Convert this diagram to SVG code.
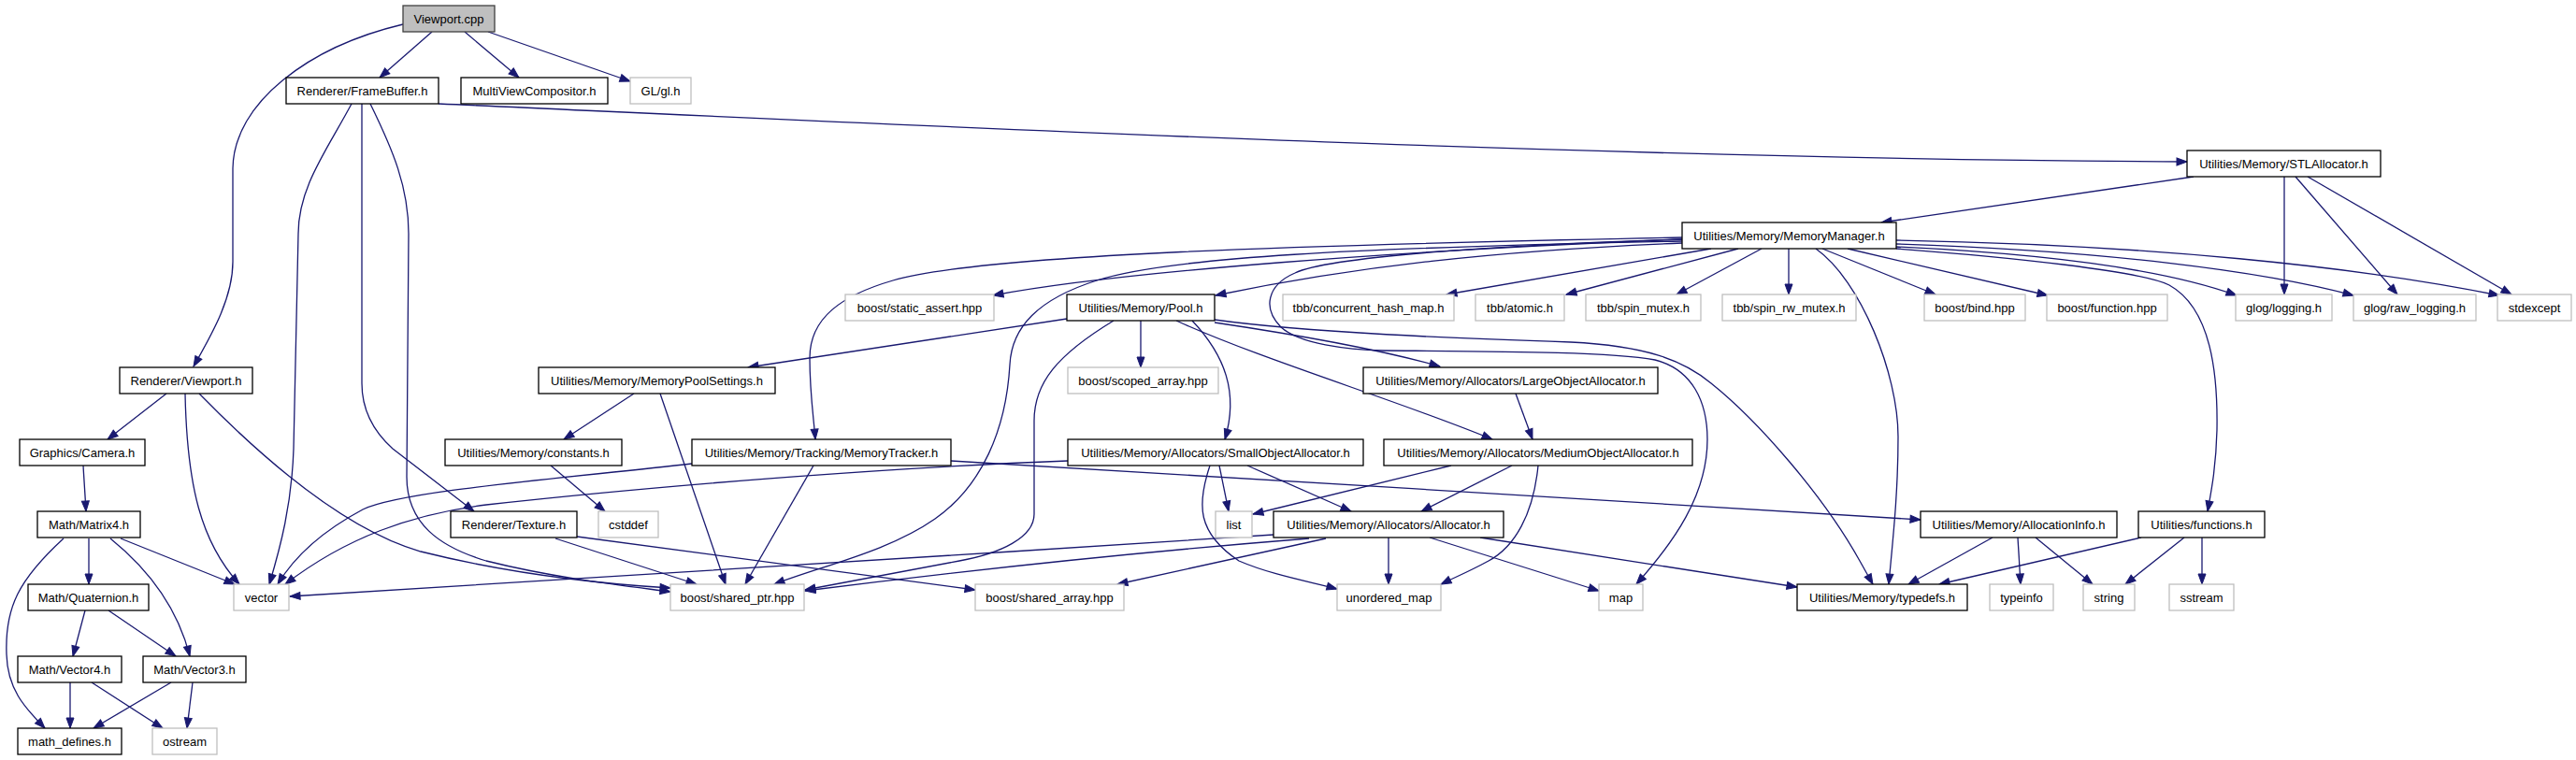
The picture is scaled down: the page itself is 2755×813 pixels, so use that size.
<svg xmlns="http://www.w3.org/2000/svg" width="2755" height="813" viewBox="0 0 2755 813">
<defs>
<style>
rect{fill:#fff;stroke:#000;stroke-width:1.3}
.x rect{stroke:#bfbfbf}
.r rect{fill:#bfbfbf;stroke:#404040}
text{font-family:"Liberation Sans",Arial,Helvetica,sans-serif;font-size:13px;text-anchor:middle;fill:#000}
#edges path{fill:none;stroke:#191970;stroke-width:1.3;marker-end:url(#a)}
</style>
<marker id="a" markerWidth="12" markerHeight="9" refX="11" refY="4" orient="auto" markerUnits="userSpaceOnUse" overflow="visible"><path d="M0,0 L11,4 L0,8 z" fill="#191970" stroke="#191970" stroke-width="1"/></marker>
</defs>
<rect x="0" y="0" width="2755" height="813" style="fill:#fff;stroke:none"/>
<g id="edges">
<path d="M431,26 C330,50 250,110 249,180 L249,280 C249,320 225,360 207,392"/>
<path d="M462,34 L406,83"/>
<path d="M497,34 L555,83"/>
<path d="M522,34 L674,87"/>
<path d="M469,111 C1000,135 1700,170 2339,173"/>
<path d="M376,111 C350,160 319,200 319,250 L314,480 C312,540 300,585 288,625"/>
<path d="M387,111 L387,410 C387,440 400,462 420,480 L507,547"/>
<path d="M396,111 C420,160 437,200 437,250 L435,510 C435,560 470,585 520,600 C600,620 680,628 717,633"/>
<path d="M178,421 L115,470"/>
<path d="M198,421 C200,520 215,580 256,625"/>
<path d="M213,421 C300,510 380,570 450,590 C550,615 650,625 717,629"/>
<path d="M89,498 L92,547"/>
<path d="M68,576 C20,620 5,650 7,700 C8,740 30,760 48,779"/>
<path d="M95,576 L95,625"/>
<path d="M118,576 C160,610 190,650 203,702"/>
<path d="M129,576 L251,625"/>
<path d="M91,653 L78,702"/>
<path d="M116,653 L188,702"/>
<path d="M75,730 L75,779"/>
<path d="M98,730 L174,779"/>
<path d="M183,730 L100,779"/>
<path d="M206,730 L200,779"/>
<path d="M2346,189 L2012,238"/>
<path d="M2443,189 L2443,315"/>
<path d="M2455,189 L2564,315"/>
<path d="M2468,189 L2686,315"/>
<path d="M1799,256 C1500,268 1200,290 1062,316"/>
<path d="M1799,260 C1600,268 1450,285 1300,316"/>
<path d="M1799,254 C1400,262 1050,272 955,300 C900,316 866,340 866,383 C866,420 870,445 872,470"/>
<path d="M1799,258 C1450,265 1250,275 1173,300 C1110,320 1082,350 1080,390 C1076,460 1050,520 1000,555 C950,590 880,605 828,625"/>
<path d="M1799,256 C1600,262 1420,275 1385,292 C1355,305 1350,330 1370,350 C1390,368 1440,374 1480,375 C1600,376 1720,376 1770,385 C1810,395 1826,430 1826,470 C1826,530 1790,580 1750,625"/>
<path d="M1830,266 L1547,315"/>
<path d="M1859,266 L1675,315"/>
<path d="M1884,266 L1793,315"/>
<path d="M1913,266 L1913,315"/>
<path d="M1949,266 L2070,315"/>
<path d="M1942,266 C1990,300 2030,400 2030,467 C2030,530 2024,580 2020,625"/>
<path d="M1976,266 L2190,316"/>
<path d="M2028,264 C2200,272 2320,290 2392,316"/>
<path d="M2028,261 C2250,268 2420,290 2517,316"/>
<path d="M2028,257 C2300,262 2520,285 2673,316"/>
<path d="M2028,266 C2150,275 2290,290 2320,305 C2365,330 2372,400 2371,460 C2370,500 2365,525 2361,547"/>
<path d="M1141,341 L800,393"/>
<path d="M1220,343 L1220,393"/>
<path d="M1275,343 C1310,380 1325,420 1310,470"/>
<path d="M1191,343 C1130,380 1106,410 1106,450 L1106,550 C1106,575 1070,592 1026,600 L861,631"/>
<path d="M1299,345 C1400,360 1480,375 1540,392"/>
<path d="M1258,343 C1350,385 1500,430 1596,470"/>
<path d="M1299,342 C1400,356 1560,362 1680,366 C1760,370 1800,385 1830,410 C1880,450 1950,530 1989,600 L2003,625"/>
<path d="M678,421 L603,470"/>
<path d="M706,421 L776,625"/>
<path d="M589,498 L647,547"/>
<path d="M740,496 C600,512 430,525 388,545 C345,568 315,595 297,625"/>
<path d="M870,498 L797,625"/>
<path d="M1017,493 C1300,510 1800,540 2054,556"/>
<path d="M1142,493 C950,500 700,520 520,540 C440,550 370,575 305,625"/>
<path d="M1304,498 L1314,547"/>
<path d="M1294,498 C1280,540 1280,570 1325,600 C1360,615 1400,622 1430,630"/>
<path d="M1334,498 L1445,547"/>
<path d="M1621,421 L1639,470"/>
<path d="M1552,498 L1340,550"/>
<path d="M1617,498 L1520,547"/>
<path d="M1645,498 C1640,550 1620,585 1592,600 C1570,612 1555,618 1541,625"/>
<path d="M1362,572 C1000,595 600,622 310,638"/>
<path d="M1400,576 C1250,588 1050,608 861,632"/>
<path d="M1418,576 L1195,625"/>
<path d="M1485,575 L1485,625"/>
<path d="M1529,575 L1710,632"/>
<path d="M1583,575 L1922,628"/>
<path d="M2131,575 L2041,625"/>
<path d="M2158,575 L2161,625"/>
<path d="M2177,575 L2238,625"/>
<path d="M2290,575 L2074,625"/>
<path d="M2336,575 L2273,625"/>
<path d="M2355,575 L2355,625"/>
<path d="M594,576 L745,625"/>
<path d="M617,574 L1043,631"/>
</g>
<g id="n_viewport_cpp" class="r"><rect x="431" y="6" width="98" height="28"/><text x="480" y="24.5">Viewport.cpp</text></g>
<g id="n_framebuffer"><rect x="306" y="83" width="163" height="28"/><text x="387.5" y="101.5">Renderer/FrameBuffer.h</text></g>
<g id="n_multiview"><rect x="493" y="83" width="157" height="28"/><text x="571.5" y="101.5">MultiViewCompositor.h</text></g>
<g id="n_gl" class="x"><rect x="674" y="83" width="65" height="28"/><text x="706.5" y="101.5">GL/gl.h</text></g>
<g id="n_stlallocator"><rect x="2339" y="161" width="207" height="28"/><text x="2442.5" y="179.5">Utilities/Memory/STLAllocator.h</text></g>
<g id="n_memorymanager"><rect x="1799" y="238" width="229" height="28"/><text x="1913.5" y="256.5">Utilities/Memory/MemoryManager.h</text></g>
<g id="n_static_assert" class="x"><rect x="904" y="315" width="159" height="28"/><text x="983.5" y="333.5">boost/static_assert.hpp</text></g>
<g id="n_pool"><rect x="1141" y="315" width="158" height="28"/><text x="1220" y="333.5">Utilities/Memory/Pool.h</text></g>
<g id="n_concurrent" class="x"><rect x="1372" y="315" width="183" height="28"/><text x="1463.5" y="333.5">tbb/concurrent_hash_map.h</text></g>
<g id="n_atomic" class="x"><rect x="1578" y="315" width="95" height="28"/><text x="1625.5" y="333.5">tbb/atomic.h</text></g>
<g id="n_spin_mutex" class="x"><rect x="1696" y="315" width="123" height="28"/><text x="1757.5" y="333.5">tbb/spin_mutex.h</text></g>
<g id="n_spin_rw_mutex" class="x"><rect x="1842" y="315" width="143" height="28"/><text x="1913.5" y="333.5">tbb/spin_rw_mutex.h</text></g>
<g id="n_bind" class="x"><rect x="2058" y="315" width="108" height="28"/><text x="2112" y="333.5">boost/bind.hpp</text></g>
<g id="n_function" class="x"><rect x="2189" y="315" width="129" height="28"/><text x="2253.5" y="333.5">boost/function.hpp</text></g>
<g id="n_logging" class="x"><rect x="2391" y="315" width="103" height="28"/><text x="2442.5" y="333.5">glog/logging.h</text></g>
<g id="n_raw_logging" class="x"><rect x="2517" y="315" width="131" height="28"/><text x="2582.5" y="333.5">glog/raw_logging.h</text></g>
<g id="n_stdexcept" class="x"><rect x="2671" y="315" width="79" height="28"/><text x="2710.5" y="333.5">stdexcept</text></g>
<g id="n_renderer_viewport"><rect x="128" y="393" width="142" height="28"/><text x="199" y="411.5">Renderer/Viewport.h</text></g>
<g id="n_poolsettings"><rect x="576" y="393" width="253" height="28"/><text x="702.5" y="411.5">Utilities/Memory/MemoryPoolSettings.h</text></g>
<g id="n_scoped_array" class="x"><rect x="1142" y="393" width="161" height="28"/><text x="1222.5" y="411.5">boost/scoped_array.hpp</text></g>
<g id="n_largeobj"><rect x="1458" y="393" width="315" height="28"/><text x="1615.5" y="411.5">Utilities/Memory/Allocators/LargeObjectAllocator.h</text></g>
<g id="n_camera"><rect x="21" y="470" width="134" height="28"/><text x="88" y="488.5">Graphics/Camera.h</text></g>
<g id="n_constants"><rect x="476" y="470" width="189" height="28"/><text x="570.5" y="488.5">Utilities/Memory/constants.h</text></g>
<g id="n_memorytracker"><rect x="740" y="470" width="277" height="28"/><text x="878.5" y="488.5">Utilities/Memory/Tracking/MemoryTracker.h</text></g>
<g id="n_smallobj"><rect x="1142" y="470" width="316" height="28"/><text x="1300" y="488.5">Utilities/Memory/Allocators/SmallObjectAllocator.h</text></g>
<g id="n_mediumobj"><rect x="1480" y="470" width="330" height="28"/><text x="1645" y="488.5">Utilities/Memory/Allocators/MediumObjectAllocator.h</text></g>
<g id="n_matrix4"><rect x="40" y="547" width="110" height="28"/><text x="95" y="565.5">Math/Matrix4.h</text></g>
<g id="n_texture"><rect x="482" y="547" width="135" height="28"/><text x="549.5" y="565.5">Renderer/Texture.h</text></g>
<g id="n_cstddef" class="x"><rect x="640" y="547" width="64" height="28"/><text x="672" y="565.5">cstddef</text></g>
<g id="n_list" class="x"><rect x="1300" y="547" width="39" height="28"/><text x="1319.5" y="565.5">list</text></g>
<g id="n_allocator"><rect x="1362" y="547" width="246" height="28"/><text x="1485" y="565.5">Utilities/Memory/Allocators/Allocator.h</text></g>
<g id="n_allocationinfo"><rect x="2054" y="547" width="210" height="28"/><text x="2159" y="565.5">Utilities/Memory/AllocationInfo.h</text></g>
<g id="n_functions"><rect x="2287" y="547" width="135" height="28"/><text x="2354.5" y="565.5">Utilities/functions.h</text></g>
<g id="n_quaternion"><rect x="30" y="625" width="129" height="28"/><text x="94.5" y="643.5">Math/Quaternion.h</text></g>
<g id="n_vector" class="x"><rect x="250" y="625" width="59" height="28"/><text x="279.5" y="643.5">vector</text></g>
<g id="n_shared_ptr" class="x"><rect x="717" y="625" width="143" height="28"/><text x="788.5" y="643.5">boost/shared_ptr.hpp</text></g>
<g id="n_shared_array" class="x"><rect x="1043" y="625" width="159" height="28"/><text x="1122.5" y="643.5">boost/shared_array.hpp</text></g>
<g id="n_unordered_map" class="x"><rect x="1430" y="625" width="111" height="28"/><text x="1485.5" y="643.5">unordered_map</text></g>
<g id="n_map" class="x"><rect x="1710" y="625" width="47" height="28"/><text x="1733.5" y="643.5">map</text></g>
<g id="n_typedefs"><rect x="1922" y="625" width="182" height="28"/><text x="2013" y="643.5">Utilities/Memory/typedefs.h</text></g>
<g id="n_typeinfo" class="x"><rect x="2128" y="625" width="68" height="28"/><text x="2162" y="643.5">typeinfo</text></g>
<g id="n_string" class="x"><rect x="2228" y="625" width="55" height="28"/><text x="2255.5" y="643.5">string</text></g>
<g id="n_sstream" class="x"><rect x="2320" y="625" width="69" height="28"/><text x="2354.5" y="643.5">sstream</text></g>
<g id="n_vector4"><rect x="19" y="702" width="111" height="28"/><text x="74.5" y="720.5">Math/Vector4.h</text></g>
<g id="n_vector3"><rect x="153" y="702" width="110" height="28"/><text x="208" y="720.5">Math/Vector3.h</text></g>
<g id="n_math_defines"><rect x="19" y="779" width="111" height="28"/><text x="74.5" y="797.5">math_defines.h</text></g>
<g id="n_ostream" class="x"><rect x="163" y="779" width="69" height="28"/><text x="197.5" y="797.5">ostream</text></g>
</svg>
